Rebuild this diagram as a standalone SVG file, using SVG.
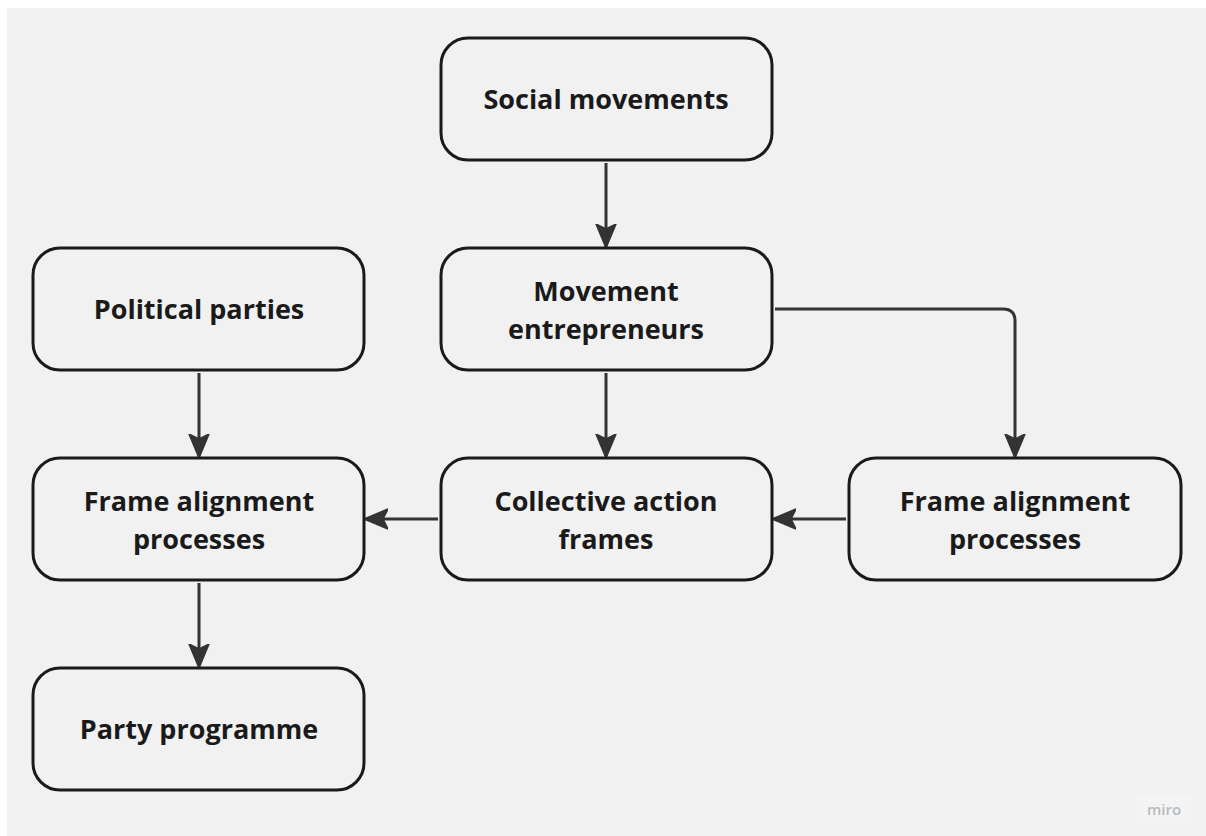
<svg xmlns="http://www.w3.org/2000/svg" width="1206" height="836" viewBox="0 0 1206 836">
<style>
.box{fill:#f1f1f1;stroke:#1a1a1a;stroke-width:3}
.t{font-family:"Open Sans","Noto Sans",sans-serif;font-weight:700;font-size:27px;fill:#1a1a1a;text-anchor:middle}
.c{fill:none;stroke:#333;stroke-width:3}
</style>
<defs>
<marker id="ah" viewBox="0 0 24 22" refX="22" refY="11" markerWidth="24" markerHeight="22" markerUnits="userSpaceOnUse" orient="auto">
<path d="M0,1 L24,11 L0,21 L5,11 Z" fill="#333" stroke="#333" stroke-width="1.5" stroke-linejoin="round"/>
</marker>
</defs>
<rect x="0" y="0" width="1206" height="836" fill="#ffffff"/>
<rect x="7" y="8" width="1199" height="828" fill="#f1f1f1"/>
<g id="connectors">
<path class="c" d="M606,163 V246" marker-end="url(#ah)"/>
<path class="c" d="M606,373 V456" marker-end="url(#ah)"/>
<path class="c" d="M199,373 V456" marker-end="url(#ah)"/>
<path class="c" d="M199,583 V666" marker-end="url(#ah)"/>
<path class="c" d="M775,309 H1003 Q1015,309 1015,321 V456" marker-end="url(#ah)"/>
<path class="c" d="M846,519 H774" marker-end="url(#ah)"/>
<path class="c" d="M438,519 H366" marker-end="url(#ah)"/>
</g>
<g id="social-movements">
<rect class="box" x="441" y="38" width="331" height="122" rx="27"/>
<text class="t" x="606" y="109">Social movements</text>
</g>
<g id="movement-entrepreneurs">
<rect class="box" x="441" y="248" width="331" height="122" rx="27"/>
<text class="t" x="606" y="301">Movement</text>
<text class="t" x="606" y="339">entrepreneurs</text>
</g>
<g id="political-parties">
<rect class="box" x="33" y="248" width="331" height="122" rx="27"/>
<text class="t" x="199" y="319">Political parties</text>
</g>
<g id="frame-alignment-left">
<rect class="box" x="33" y="458" width="331" height="122" rx="27"/>
<text class="t" x="199" y="511">Frame alignment</text>
<text class="t" x="199" y="549">processes</text>
</g>
<g id="collective-action-frames">
<rect class="box" x="441" y="458" width="331" height="122" rx="27"/>
<text class="t" x="606" y="511">Collective action</text>
<text class="t" x="606" y="549">frames</text>
</g>
<g id="frame-alignment-right">
<rect class="box" x="849" y="458" width="332" height="122" rx="27"/>
<text class="t" x="1015" y="511">Frame alignment</text>
<text class="t" x="1015" y="549">processes</text>
</g>
<g id="party-programme">
<rect class="box" x="33" y="668" width="331" height="122" rx="27"/>
<text class="t" x="199" y="739">Party programme</text>
</g>
<g id="miro-logo">
<rect x="1136" y="795" width="56" height="30" fill="#f4f4f4"/>
<text x="1164" y="815" font-family="Open Sans, sans-serif" font-weight="600" font-size="15" fill="#b9b9c0" text-anchor="middle">miro</text>
</g>
</svg>
